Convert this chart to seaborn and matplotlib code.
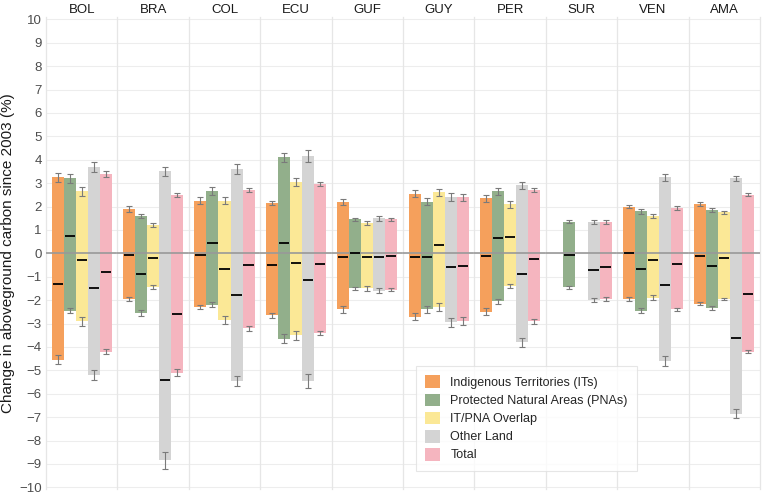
import numpy as np
import pandas as pd
import matplotlib
matplotlib.use("Agg")
import matplotlib.pyplot as plt
from matplotlib.patches import Patch
import seaborn as sns

countries = ["BOL", "BRA", "COL", "ECU", "GUF", "GUY", "PER", "SUR", "VEN", "AMA"]
categories = ["Indigenous Territories (ITs)", "Protected Natural Areas (PNAs)",
              "IT/PNA Overlap", "Other Land", "Total"]
colors = ["#F5A05C", "#92AF8B", "#FBE896", "#D4D4D4", "#F5B5BF"]

nan = np.nan
# gain (top of bar), loss (bottom of bar), net (black line), per country x category
gain = {
    "BOL": [3.25, 3.2, 2.65, 3.7, 3.4],
    "BRA": [1.9, 1.6, 1.2, 3.5, 2.5],
    "COL": [2.25, 2.65, 2.25, 3.6, 2.7],
    "ECU": [2.15, 4.1, 3.05, 4.15, 2.95],
    "GUF": [2.2, 1.45, 1.3, 1.5, 1.45],
    "GUY": [2.55, 2.2, 2.6, 2.4, 2.4],
    "PER": [2.35, 2.65, 2.1, 2.9, 2.7],
    "SUR": [nan, 1.35, nan, 1.35, 1.35],
    "VEN": [2.0, 1.8, 1.6, 3.25, 1.95],
    "AMA": [2.1, 1.85, 1.75, 3.2, 2.5],
}
loss = {
    "BOL": [-4.55, -2.45, -2.9, -5.2, -4.2],
    "BRA": [-1.95, -2.55, -1.45, -8.85, -5.1],
    "COL": [-2.3, -2.2, -2.85, -5.45, -3.2],
    "ECU": [-2.65, -3.65, -3.5, -5.45, -3.4],
    "GUF": [-2.4, -1.5, -1.5, -1.6, -1.55],
    "GUY": [-2.7, -2.4, -2.3, -2.95, -2.9],
    "PER": [-2.5, -2.05, -1.4, -3.8, -2.9],
    "SUR": [nan, -1.45, nan, -2.0, -1.95],
    "VEN": [-1.95, -2.45, -1.9, -4.6, -2.4],
    "AMA": [-2.15, -2.35, -1.95, -6.85, -4.2],
}
net = {
    "BOL": [-1.3, 0.75, -0.3, -1.5, -0.8],
    "BRA": [-0.05, -0.9, -0.2, -5.4, -2.6],
    "COL": [-0.05, 0.45, -0.65, -1.8, -0.5],
    "ECU": [-0.5, 0.45, -0.4, -1.15, -0.45],
    "GUF": [-0.15, 0.0, -0.15, -0.15, -0.1],
    "GUY": [-0.15, -0.15, 0.35, -0.6, -0.55],
    "PER": [-0.1, 0.65, 0.7, -0.9, -0.25],
    "SUR": [nan, -0.05, nan, -0.7, -0.6],
    "VEN": [0.0, -0.65, -0.3, -1.35, -0.45],
    "AMA": [-0.1, -0.55, -0.2, -3.6, -1.75],
}
gain_err = {
    "BOL": [0.2, 0.2, 0.2, 0.22, 0.12],
    "BRA": [0.12, 0.1, 0.08, 0.18, 0.08],
    "COL": [0.14, 0.17, 0.15, 0.2, 0.1],
    "ECU": [0.1, 0.2, 0.17, 0.25, 0.08],
    "GUF": [0.14, 0.07, 0.1, 0.1, 0.06],
    "GUY": [0.14, 0.15, 0.15, 0.16, 0.15],
    "PER": [0.15, 0.16, 0.15, 0.14, 0.1],
    "SUR": [nan, 0.06, nan, 0.08, 0.08],
    "VEN": [0.08, 0.1, 0.1, 0.14, 0.08],
    "AMA": [0.08, 0.08, 0.07, 0.1, 0.06],
}
loss_err = {
    "BOL": [0.2, 0.12, 0.2, 0.22, 0.1],
    "BRA": [0.1, 0.14, 0.08, 0.35, 0.14],
    "COL": [0.1, 0.1, 0.16, 0.2, 0.1],
    "ECU": [0.1, 0.2, 0.2, 0.3, 0.1],
    "GUF": [0.15, 0.06, 0.1, 0.1, 0.06],
    "GUY": [0.15, 0.15, 0.16, 0.2, 0.16],
    "PER": [0.15, 0.1, 0.08, 0.2, 0.1],
    "SUR": [nan, 0.06, nan, 0.08, 0.08],
    "VEN": [0.08, 0.12, 0.1, 0.22, 0.08],
    "AMA": [0.06, 0.08, 0.06, 0.2, 0.08],
}

sns.set_theme(style="white")
plt.rcParams["font.family"] = ["Liberation Sans", "DejaVu Sans"]

fig, axes = plt.subplots(1, len(countries), sharey=True, figsize=(7.62, 4.95), dpi=100)
fig.subplots_adjust(left=46 / 762, right=760 / 762, bottom=1 - 488.5 / 495,
                    top=1 - 17 / 495, wspace=0)

palette = dict(zip(categories, colors))
for i, (ax, c) in enumerate(zip(axes, countries)):
    df = pd.DataFrame({"cat": categories, "gain": gain[c], "loss": loss[c], "net": net[c],
                       "ge": gain_err[c], "le": loss_err[c]})
    for y in np.arange(-10, 11):
        ax.axhline(y, color="#EDEDED", lw=0.8, zorder=0)
    for col in ["gain", "loss"]:
        sns.barplot(data=df, x="cat", y=col, hue="cat", order=categories, hue_order=categories,
                    palette=palette, saturation=1, width=1, dodge=False, legend=False,
                    errorbar=None, linewidth=0, ax=ax, zorder=2)
    xs = np.arange(len(categories))
    ax.axhline(0, color="#999999", lw=1.2, zorder=3)
    ax.errorbar(xs, df["gain"], yerr=df["ge"], fmt="none", ecolor="#7A7A7A",
                elinewidth=0.8, capsize=1.9, capthick=0.8, zorder=4)
    ax.errorbar(xs, df["loss"], yerr=df["le"], fmt="none", ecolor="#7A7A7A",
                elinewidth=0.8, capsize=1.9, capthick=0.8, zorder=4)
    ax.hlines(df["net"], xs - 0.42, xs + 0.42, color="black", lw=1.3, zorder=5)
    ax.set_xlim(-0.97, 4.97)
    ax.set_ylim(-10.05, 10.1)
    ax.set_xticks([])
    ax.set_xlabel("")
    ax.set_ylabel("")
    ax.set_title(c, fontsize=9.5, color="#1A1A1A", pad=3)
    for s in ["top", "bottom", "right"]:
        ax.spines[s].set_visible(False)
    ax.spines["left"].set_color("#E6E6E6")
    ax.spines["left"].set_linewidth(0.9)
    if i == len(countries) - 1:
        ax.spines["right"].set_visible(True)
        ax.spines["right"].set_color("#E6E6E6")
        ax.spines["right"].set_linewidth(0.9)
    ax.tick_params(axis="y", length=0, labelsize=9.5, labelcolor="#4D4D4D", pad=3)

axes[0].set_yticks(np.arange(-10, 11, 1))
axes[0].set_ylabel("Change in aboveground carbon since 2003 (%)", fontsize=11,
                   color="#1A1A1A", labelpad=3)

handles = [Patch(facecolor=col, edgecolor="none", label=lab) for lab, col in zip(categories, colors)]
leg = fig.legend(handles=handles, loc="upper left", bbox_to_anchor=(416 / 762, 1 - 366 / 495),
                 frameon=True, fontsize=9, handlelength=1.2, handleheight=1.2,
                 handletextpad=0.8, labelspacing=0.36, borderpad=0.75, fancybox=False,
                 borderaxespad=0)
leg.get_frame().set_edgecolor("#E0E0E0")
leg.get_frame().set_linewidth(0.8)

fig.savefig("out.png", dpi=100)
